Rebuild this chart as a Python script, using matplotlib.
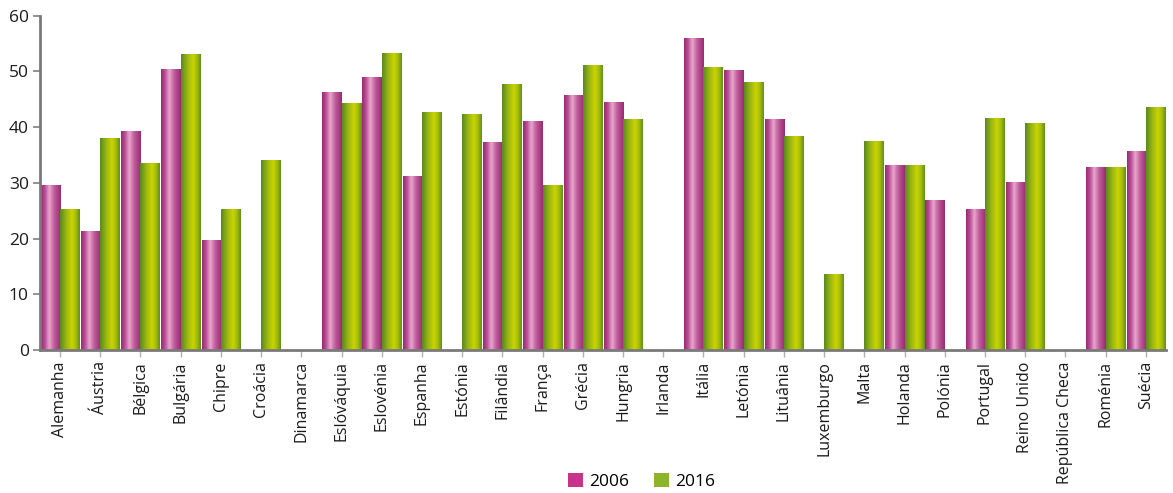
import numpy as np
import matplotlib
matplotlib.use("Agg")
import matplotlib.pyplot as plt
from matplotlib.colors import LinearSegmentedColormap
from matplotlib.patches import Patch

plt.rcParams['font.family'] = ['Open Sans', 'DejaVu Sans']

categories = ["Alemanha", "Áustria", "Bélgica", "Bulgária", "Chipre", "Croácia",
              "Dinamarca", "Eslóváquia", "Eslovénia", "Espanha", "Estónia", "Filândia",
              "França", "Grécia", "Hungria", "Irlanda", "Itália", "Letónia", "Lituânia",
              "Luxemburgo", "Malta", "Holanda", "Polónia", "Portugal", "Reino Unido",
              "República Checa", "Roménia", "Suécia"]
values_2006 = [29.5, 21.2, 39.2, 50.3, 19.6, 0, 0, 46.3, 49.0, 31.1, 0, 37.2,
               41.0, 45.6, 44.5, 0, 55.9, 50.1, 41.3, 0, 0, 33.1, 26.9, 25.3,
               30.0, 0, 32.7, 35.7]
values_2016 = [25.3, 37.9, 33.4, 53.0, 25.3, 34.1, 0, 44.2, 53.3, 42.6, 42.2, 47.6,
               29.6, 51.0, 41.3, 0, 50.7, 48.0, 38.4, 13.5, 37.5, 33.1, 0, 41.5,
               40.6, 0, 32.7, 43.6]
series_labels = ["2006", "2016"]
yticks = [0, 10, 20, 30, 40, 50, 60]

cmap_mag = LinearSegmentedColormap.from_list(
    "mag", [(0, "#9a2a6e"), (0.2, "#b8509a"), (0.42, "#eaa6cc"), (0.65, "#c0609f"), (1, "#9a2a72")])
cmap_grn = LinearSegmentedColormap.from_list(
    "grn", [(0, "#5a8a1e"), (0.3, "#98b512"), (0.6, "#cad400"), (0.8, "#a8bd0e"), (1, "#5f911e")])

fig = plt.figure(figsize=(11.73, 4.93), dpi=100)
ax = fig.add_axes([0.034, 0.290, 0.960, 0.678])

x = np.arange(len(categories))
w = 0.48
b1 = ax.bar(x - w / 2, values_2006, width=w, color="none", zorder=2)
b2 = ax.bar(x + w / 2, values_2016, width=w, color="none", zorder=2)

grad = np.linspace(0, 1, 64).reshape(1, -1)
for bars, cm in ((b1, cmap_mag), (b2, cmap_grn)):
    for p in bars:
        h = p.get_height()
        if h <= 0:
            continue
        x0 = p.get_x()
        ax.imshow(grad, cmap=cm, aspect="auto", interpolation="bilinear",
                  extent=[x0, x0 + p.get_width(), 0, h], zorder=1)

ax.set_xlim(-0.5, len(categories) - 0.5)
ax.set_ylim(0, 60)
ax.set_yticks(yticks)
ax.set_xticks(x)
ax.set_xticklabels(categories, rotation=90, fontsize=11.5, color="#1a1a1a")
ax.tick_params(axis="y", labelsize=12.5, colors="#1a1a1a", length=5, width=1.2, direction="out", pad=3)
ax.tick_params(axis="x", length=5, width=1.0, color="#b0b0b0", pad=3)
ax.tick_params(axis="y", color="#808080")

for s in ("top", "right"):
    ax.spines[s].set_visible(False)
for s in ("left", "bottom"):
    ax.spines[s].set_color("#7a7a7a")
    ax.spines[s].set_linewidth(2)

handles = [Patch(facecolor="#c8338c", label=series_labels[0]),
           Patch(facecolor="#8db42a", label=series_labels[1])]
fig.legend(handles=handles, loc="center", bbox_to_anchor=(0.547, 0.024), ncol=2,
           frameon=False, fontsize=12.5, handlelength=0.9, handleheight=0.9,
           columnspacing=1.4, handletextpad=0.35)

fig.savefig("out.png", dpi=100)
